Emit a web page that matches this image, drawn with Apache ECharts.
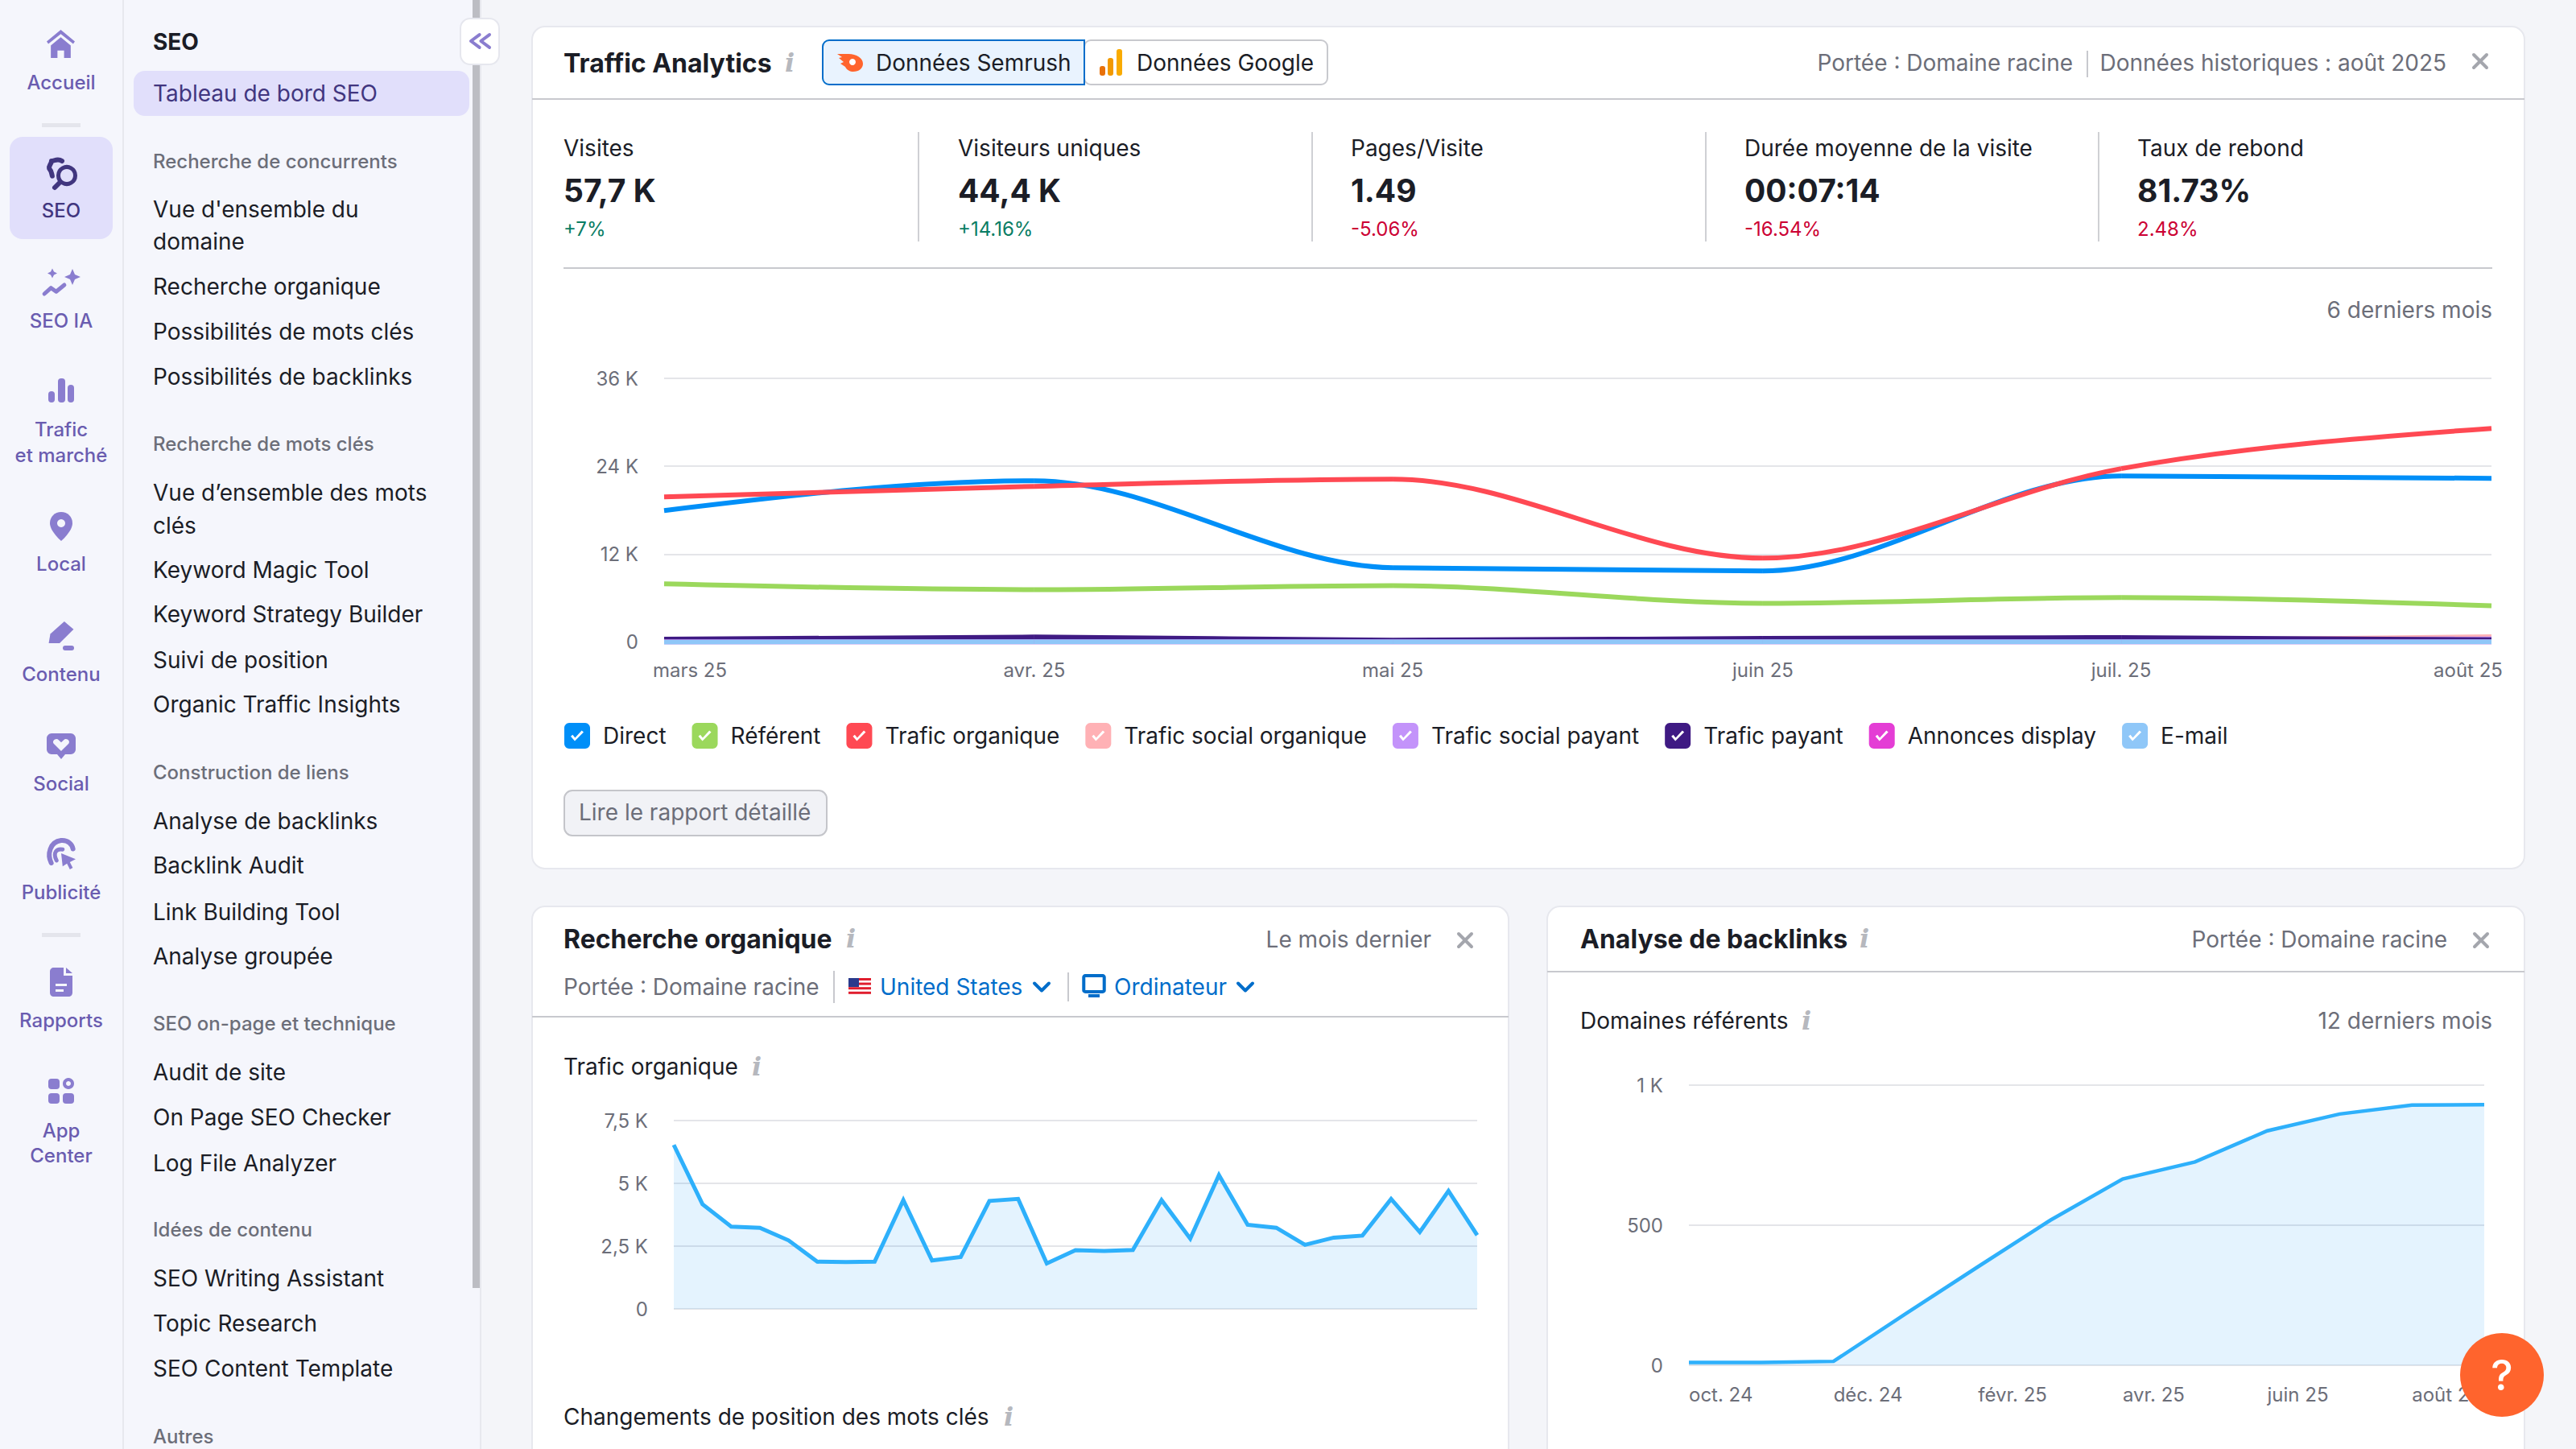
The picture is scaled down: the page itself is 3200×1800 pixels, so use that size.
<!DOCTYPE html>
<html lang="fr">
<head>
<meta charset="utf-8">
<title>Tableau de bord SEO</title>
<script src="https://cdn.jsdelivr.net/npm/echarts@6/dist/echarts.min.js"></script>
<style>
html,body{margin:0;padding:0;background:#f4f5f9}
#chart{width:3200px;height:1800px}
</style>
</head>
<body>
<div id="chart"></div>
<script>
// ---------- chart data ----------
const trafficDates = ['2025-03-01', '2025-04-01', '2025-05-01', '2025-06-01', '2025-07-01', '2025-08-01'];
const trafficMonths = ['mars 25', 'avr. 25', 'mai 25', 'juin 25', 'juil. 25', 'août 25'];
const trafficTicks = ['0', '12 K', '24 K', '36 K'];
const directValues = [17950, 22020, 10130, 9690, 22680, 22350];
const referentValues = [7930, 7150, 7700, 5280, 6060, 4950];
const organicValues = [19820, 21250, 22240, 11450, 23670, 29170];
const socialOrganicValues = [120, 150, 100, 130, 180, 720];
const socialPaidValues = [120, 160, 90, 140, 200, 420];
const paidValues = [385, 680, 240, 495, 605, 300];
const displayValues = [30, 30, 20, 30, 30, 30];
const emailValues = [10, 30, 20, 20, 20, 20];

const organicDays = ['1','2','3','4','5','6','7','8','9','10','11','12','13','14','15','16','17','18','19','20','21','22','23','24','25','26','27','28','29'];
const organicTicks = ['0', '2,5 K', '5 K', '7,5 K'];
const organicTraffic = [6530,4170,3280,3230,2730,1880,1865,1880,4330,1930,2070,4300,4380,1810,2340,2310,2350,4330,2800,5330,3350,3230,2550,2840,2920,4380,3060,4700,2940];

const backlinkMonths = ['oct. 24','nov. 24','déc. 24','janv. 25','févr. 25','mars 25','avr. 25','mai 25','juin 25','juil. 25','août 25','sept. 25'];
const backlinkTicks = ['0', '500', '1 K'];
const referringDomains = [10,10,14,184,352,518,665,726,837,897,929,930];

const legendNames = ['Direct','Référent','Trafic organique','Trafic social organique','Trafic social payant','Trafic payant','Annonces display','E-mail'];
const legendColors = ['#008ff8','#9bd85c','#ff4953','#ffb1b5','#c393fa','#3f1a83','#e43dd5','#8fc7f8'];

// ---------- interface text ----------
const kpiLabels = ['Visites','Visiteurs uniques','Pages/Visite','Durée moyenne de la visite','Taux de rebond'];
const kpiValues = ['57,7 K','44,4 K','1.49','00:07:14','81.73%'];
const kpiDeltas = ['+7%','+14.16%','-5.06%','-16.54%','2.48%'];
const railLabels = [['Accueil',102],['SEO',261],['SEO IA',398],['Trafic',533],['et marché',565],['Local',700],['Contenu',837],['Social',973],['Publicité',1108],['Rapports',1267],['App',1404],['Center',1435]];
const menuHeads = [['Recherche de concurrents',200],['Recherche de mots clés',551],['Construction de liens',959],['SEO on-page et technique',1271],['Idées de contenu',1527],['Autres',1784]];
const menuItems = [["Vue d'ensemble du",260],['domaine',300],['Recherche organique',356],['Possibilités de mots clés',412],['Possibilités de backlinks',468],['Vue d’ensemble des mots',612],['clés',653],['Keyword Magic Tool',708],['Keyword Strategy Builder',763],['Suivi de position',820],['Organic Traffic Insights',875],['Analyse de backlinks',1020],['Backlink Audit',1075],['Link Building Tool',1133],['Analyse groupée',1188],['Audit de site',1332],['On Page SEO Checker',1388],['Log File Analyzer',1445],['SEO Writing Assistant',1588],['Topic Research',1644],['SEO Content Template',1700]];

// ---------- palette ----------
const FONT = 'Inter', INK = '#1b1d26', MUTE = '#6c6e79', RULE = '#c8c9ce', GRID = '#e4e5e9';
const ICON = '#8a7dcf', LINK = '#006dca', PANEL = '#f5f6fc', ACTIVE = '#e1dffb', RAILTXT = '#6a5cb0', DEEP = '#41367f';
const BODY = 28, SMALL = 24, TITLE = 32, BIG = 39;

// ---------- graphic helpers ----------
const g = [];
function txt(text, x, y, o) {
  o = o || {};
  g.push({ type: 'text', z: o.z || 1, silent: true, style: {
    text, x, y, fill: o.fill || INK, fontFamily: o.family || FONT, fontSize: o.size || BODY,
    fontWeight: o.weight || 400, fontStyle: o.style || 'normal', align: o.align || 'left', verticalAlign: 'middle' } });
}
function box(x, y, w, h, fill, o) {
  o = o || {};
  g.push({ type: 'rect', z: o.z === undefined ? -5 : o.z, silent: true, shape: { x, y, width: w, height: h, r: o.r || 0 },
    style: { fill, stroke: o.stroke || null, lineWidth: o.lw || 0 } });
}
let shapeCount = 0;
function path(d, x, y, w, h, o) {
  const name = 'uiIcon' + (shapeCount++);
  const Cls = echarts.graphic.extendPath(d, {});
  echarts.graphic.registerShape(name, Cls);
  const r = new Cls().getBoundingRect();
  const k = Math.min(w / (r.width || 1), h / (r.height || 1));
  g.push({ type: name, z: o.z || 1, silent: true,
    x: x + (w - r.width * k) / 2 - r.x * k, y: y + (h - r.height * k) / 2 - r.y * k, scaleX: k, scaleY: k,
    style: { fill: o.fill || null, stroke: o.stroke || null, lineWidth: (o.lw || 0) / k, lineCap: 'round', lineJoin: 'round' } });
}
function circ(cx, cy, r, o) {
  g.push({ type: 'circle', z: o.z || 1, silent: true, shape: { cx, cy, r },
    style: { fill: o.fill || null, stroke: o.stroke || null, lineWidth: o.lw || 0 } });
}
function infoIcon(x, y) { txt('i', x, y, { family: 'DejaVu Serif', style: 'italic', weight: 700, size: 32, fill: '#b6b8be', align: 'center' }); }
function closeIcon(x, y) { path('M0 0L18 18M18 0L0 18', x - 8, y - 8, 16, 16, { stroke: '#a4a6ad', lw: 4 }); }
function chevron(x, y) { path('M0 0L8 8L16 0', x - 9, y - 5, 18, 10, { stroke: LINK, lw: 4 }); }

// ---------- shell ----------
box(0, 0, 596, 1800, PANEL, { z: -9 });
box(152, 0, 2, 1800, '#e7e8ee', { z: -8 });
box(596, 0, 2, 1800, '#e7e8ee', { z: -8 });
box(587, 0, 9, 1600, '#bcbdc3', { z: -7 });
box(52, 153, 48, 5, '#e4e5ec', { z: -7 });
box(52, 1159, 48, 5, '#e4e5ec', { z: -7 });
box(12, 170, 128, 127, ACTIVE, { r: 16, z: -7 });
box(166, 88, 417, 56, ACTIVE, { r: 14, z: -7 });
box(572, 23, 48, 57, '#ffffff', { r: 12, stroke: '#e6e7ee', lw: 2, z: -6 });
path('M12 0L0 9L12 18M26 0L14 9L26 18', 585, 43, 23, 16, { stroke: ICON, lw: 4 });

railLabels.forEach(([t, y]) => txt(t, 76, y, { size: SMALL, weight: 500, align: 'center', fill: (t === 'SEO') ? DEEP : RAILTXT }));
txt('SEO', 190, 52, { weight: 700 });
txt('Tableau de bord SEO', 190, 116, { fill: DEEP });
menuHeads.forEach(([t, y]) => txt(t, 190, y, { size: SMALL, weight: 500, fill: MUTE }));
menuItems.forEach(([t, y]) => txt(t, 190, y));

// rail icons
path('M0 14L17 0L34 14L32 17L17 5L2 17ZM5 19L17 9L29 19V34H21V25H13V34H5Z', 58, 37, 35, 35, { fill: ICON });
circ(83, 218, 10.5, { stroke: DEEP, lw: 5 });
path('M6 0L0 6', 68, 227, 6, 6, { stroke: DEEP, lw: 6 });
path('M18 4C12 0 8 4 4 4C4 8 0 10 1 14C4 17 4 20 5 24', 61, 197, 16, 23, { stroke: DEEP, lw: 6 });
path('M10 0L13 7L20 10L13 13L10 20L7 13L0 10L7 7Z', 80, 332, 20, 24, { fill: ICON });
path('M6 0L8 4L12 6L8 8L6 12L4 8L0 6L4 4Z', 59, 333, 12, 13, { fill: ICON });
path('M0 12L9 4L16 9L27 0', 55, 354, 25, 11, { stroke: ICON, lw: 5 });
box(60, 486, 8, 14, ICON, { r: 4, z: 1 });
box(72, 470, 9, 30, ICON, { r: 4, z: 1 });
box(84, 478, 8, 22, ICON, { r: 4, z: 1 });
path('M14 0C6 0 0 6 0 14C0 24 14 36 14 36C14 36 28 24 28 14C28 6 22 0 14 0Z', 62, 636, 28, 36, { fill: ICON });
circ(76, 650, 5, { fill: PANEL, z: 2 });
path('M0 28L2 16L20 0L32 10L14 28Z', 60, 772, 32, 27, { fill: ICON });
box(78, 802, 14, 6, ICON, { r: 3, z: 1 });
path('M6 0H30C33 0 36 3 36 6V20C36 23 33 26 30 26H23L18 32L13 26H6C3 26 0 23 0 20V6C0 3 3 0 6 0Z', 58, 911, 36, 32, { fill: ICON });
path('M9 14L0 5C-2 2 3 -2 6 1L9 4L12 1C15 -2 20 2 18 5Z', 66, 918, 20, 15, { fill: PANEL, z: 2 });
path('M4 34C-2 22 2 4 18 2C28 1 34 8 35 14', 58, 1044, 36, 28, { stroke: ICON, lw: 6 });
path('M16 22C12 14 16 10 22 11', 68, 1055, 10, 14, { stroke: ICON, lw: 5 });
path('M0 0L20 8L12 12L16 20L12 22L8 14L2 18Z', 76, 1060, 18, 20, { fill: ICON });
path('M5 0H17V10H28V31C28 34 26 36 23 36H5C2 36 0 34 0 31V5C0 2 2 0 5 0ZM20 0L28 7H20Z', 62, 1202, 28, 36, { fill: ICON });
box(69, 1222, 14, 3, PANEL, { z: 2 });
box(69, 1229, 10, 3, PANEL, { z: 2 });
box(60, 1340, 14, 13, ICON, { r: 4, z: 1 });
circ(85, 1346, 5, { stroke: ICON, lw: 4 });
box(60, 1358, 14, 13, ICON, { r: 4, z: 1 });
box(78, 1358, 14, 13, ICON, { r: 4, z: 1 });

// ---------- card 1 ----------
box(661, 33, 2475, 1046, '#ffffff', { r: 16, stroke: '#e7e8ee', lw: 2 });
box(661, 122, 2475, 2, RULE, { z: -4 });
txt('Traffic Analytics', 700, 78, { weight: 700, size: TITLE });
infoIcon(981, 78);
box(1347, 50, 302, 55, '#ffffff', { r: 8, stroke: RULE, lw: 2, z: -4 });
box(1022, 50, 325, 55, '#e9f3fe', { r: [8, 0, 0, 8], stroke: LINK, lw: 2, z: -3 });
txt('Données Semrush', 1088, 78);
txt('Données Google', 1412, 78);
path('M0 0H14C24 0 32 5 32 12C32 18 27 22 20 22C16 22 12 20 10 16L4 12L8 10L2 5L6 4Z', 1040, 67, 32, 22, { fill: '#ff642d' });
circ(1059, 77, 4, { fill: '#ffffff', z: 2 });
box(1366, 82, 7, 12, '#e8710a', { r: 3, z: 1 });
box(1376, 72, 7, 22, '#f29900', { r: 3, z: 1 });
box(1387, 61, 7, 33, '#f9ab00', { r: 3, z: 1 });
txt('Portée : Domaine racine', 2575, 78, { fill: MUTE, align: 'right' });
box(2592, 63, 2, 33, RULE, { z: -4 });
txt('Données historiques : août 2025', 3039, 78, { fill: MUTE, align: 'right' });
closeIcon(3081, 76);

const kpiX = [700, 1190, 1678, 2167, 2655];
kpiLabels.forEach((t, i) => {
  txt(t, kpiX[i], 184);
  txt(kpiValues[i], kpiX[i], 236, { weight: 700, size: BIG });
  const up = kpiDeltas[i][0] === '+';
  txt(kpiDeltas[i], kpiX[i], 284, { size: SMALL, fill: up ? '#0a7d64' : '#cc0033' });
});
[1140, 1629, 2118, 2606].forEach(x => box(x, 164, 2, 136, '#cfd0d4', { z: -4 }));
box(700, 332, 2396, 2, RULE, { z: -4 });
txt('6 derniers mois', 3096, 385, { fill: MUTE, align: 'right' });
box(701, 982, 326, 56, '#f1f2f6', { r: 10, stroke: '#c4c5ca', lw: 2, z: -4 });
txt('Lire le rapport détaillé', 719, 1009, { fill: MUTE });

// ---------- card 2 ----------
box(661, 1126, 1213, 800, '#ffffff', { r: 16, stroke: '#e7e8ee', lw: 2 });
box(661, 1262, 1213, 2, RULE, { z: -4 });
txt('Recherche organique', 700, 1166, { weight: 700, size: TITLE });
infoIcon(1057, 1166);
txt('Le mois dernier', 1778, 1167, { fill: MUTE, align: 'right' });
closeIcon(1820, 1168);
txt('Portée : Domaine racine', 700, 1226, { fill: MUTE });
box(1035, 1206, 2, 40, RULE, { z: -4 });
box(1054, 1215, 28, 20, '#ffffff', { z: 1 });
[0, 1, 2, 3].forEach(i => box(1054, 1215 + i * 5.6, 28, 3, '#e01e2e', { z: 1 }));
box(1054, 1215, 13, 11, '#2a3a8c', { z: 2 });
txt('United States', 1093, 1226, { fill: LINK });
chevron(1294, 1226);
box(1326, 1208, 2, 36, RULE, { z: -4 });
path('M2 0H26C27 0 28 1 28 2V20C28 21 27 22 26 22H2C1 22 0 21 0 20V2C0 1 1 0 2 0Z', 1346, 1212, 26, 20, { stroke: LINK, lw: 4 });
box(1352, 1235, 14, 4, LINK, { z: 1 });
txt('Ordinateur', 1384, 1226, { fill: LINK });
chevron(1547, 1226);
txt('Trafic organique', 700, 1325);
infoIcon(940, 1325);
txt('Changements de position des mots clés', 700, 1760);
infoIcon(1253, 1760);

// ---------- card 3 ----------
box(1922, 1126, 1214, 800, '#ffffff', { r: 16, stroke: '#e7e8ee', lw: 2 });
box(1922, 1206, 1214, 2, RULE, { z: -4 });
txt('Analyse de backlinks', 1963, 1166, { weight: 700, size: TITLE });
infoIcon(2316, 1166);
txt('Portée : Domaine racine', 3040, 1167, { fill: MUTE, align: 'right' });
closeIcon(3082, 1168);
txt('Domaines référents', 1963, 1268);
infoIcon(2244, 1268);
txt('12 derniers mois', 3096, 1268, { fill: MUTE, align: 'right' });

// ---------- help button ----------
circ(3108, 1708, 52, { fill: '#ff642d', z: 100 });
txt('?', 3108, 1708, { fill: '#ffffff', size: 52, weight: 500, align: 'center', z: 101 });

// ---------- legend icon: rounded box with a check mark cut out ----------
const CHECK_BOX = 'path://M6 0H26C29 0 32 3 32 6V26C32 29 29 32 26 32H6C3 32 0 29 0 26V6C0 3 3 0 6 0ZM13 22.5L24 11.5L21.6 9.5L13.4 18.5L10.4 14.8L8 16.8Z';

// ---------- monotone-cubic traffic curves, placed through the axes' own scales ----------
function monotoneTangents(pts) {
  const n = pts.length, s = [], t = [];
  for (let i = 0; i < n - 1; i++) s.push((pts[i + 1][1] - pts[i][1]) / (pts[i + 1][0] - pts[i][0]));
  for (let i = 1; i < n - 1; i++) {
    const h0 = pts[i][0] - pts[i - 1][0], h1 = pts[i + 1][0] - pts[i][0];
    const p = (s[i - 1] * h1 + s[i] * h0) / (h0 + h1);
    t[i] = (Math.sign(s[i - 1]) + Math.sign(s[i])) * Math.min(Math.abs(s[i - 1]), Math.abs(s[i]), 0.5 * Math.abs(p));
  }
  t[0] = (3 * s[0] - t[1]) / 2;
  t[n - 1] = (3 * s[n - 2] - t[n - 2]) / 2;
  return t;
}
function trafficLine(name, values, i) {
  return {
    type: 'custom', name, xAxisIndex: 0, yAxisIndex: 0, clip: false, silent: true,
    data: values.map((v, k) => [trafficDates[k], v]),
    encode: { x: 0, y: 1 },
    itemStyle: { color: legendColors[i] },
    renderItem(params, api) {
      const k = params.dataIndex;
      if (k >= values.length - 1) return null;
      const pts = values.map((v, j) => api.coord([+new Date(trafficDates[j] + 'T00:00:00'), v]));
      const t = monotoneTangents(pts);
      const h = (pts[k + 1][0] - pts[k][0]) / 3;
      return { type: 'bezierCurve', shape: {
          x1: pts[k][0], y1: pts[k][1], x2: pts[k + 1][0], y2: pts[k + 1][1],
          cpx1: pts[k][0] + h, cpy1: pts[k][1] + h * t[k], cpx2: pts[k + 1][0] - h, cpy2: pts[k + 1][1] - h * t[k + 1] },
        style: { fill: 'none', stroke: legendColors[i], lineWidth: 6, lineCap: 'butt' } };
    }
  };
}
function areaLine(name, data, xi, width) {
  return { type: 'line', name, data, xAxisIndex: xi, yAxisIndex: xi, showSymbol: false, symbol: 'none', clip: false,
    lineStyle: { color: '#2eb0fb', width, join: 'miter' }, itemStyle: { color: '#2eb0fb' }, areaStyle: { color: 'rgba(0,143,248,0.15)' } };
}
const axisText = { color: MUTE, fontFamily: FONT, fontSize: SMALL };
const gridLine = { show: true, lineStyle: { color: GRID, width: 2 } };
function yAxis(gridIndex, max, interval, labels) {
  return { type: 'value', gridIndex, min: 0, max, interval, axisLine: { show: false }, axisTick: { show: false }, splitLine: gridLine,
    axisLabel: { ...axisText, margin: 32, formatter: v => labels[Math.round(v / interval)] } };
}

const option = {
  animation: false,
  backgroundColor: '#f4f5f9',
  textStyle: { fontFamily: FONT },
  grid: [
    { left: 825, top: 470, width: 2270, height: 327.5 },
    { left: 837, top: 1392, width: 998, height: 234 },
    { left: 2098, top: 1348, width: 988, height: 348 }
  ],
  legend: {
    left: 701, top: 898, padding: 0, itemWidth: 32, itemHeight: 32, itemGap: 32, selectedMode: false, icon: CHECK_BOX,
    data: legendNames.map((name, i) => ({ name, itemStyle: { color: legendColors[i], borderWidth: 0 } })),
    textStyle: { color: INK, fontFamily: FONT, fontSize: BODY, padding: [0, 0, 0, 11] }
  },
  xAxis: [
    { type: 'time', gridIndex: 0, min: +new Date(trafficDates[0] + 'T00:00:00'), max: +new Date(trafficDates[5] + 'T00:00:00'), splitNumber: 5,
      axisLine: { show: false }, axisTick: { show: false }, splitLine: { show: false }, minorTick: { show: false },
      axisLabel: { ...axisText, margin: 23, showMinLabel: true, showMaxLabel: true, hideOverlap: false,
        formatter: v => {
          const i = new Date(v).getMonth() - 2, t = trafficMonths[i];
          return i === 0 ? '{first|' + t + '}' : i === trafficMonths.length - 1 ? '{last|' + t + '}' : '{mid|' + t + '}';
        },
        rich: { first: { ...axisText, padding: [0, 0, 0, 64] }, mid: { ...axisText }, last: { ...axisText, padding: [0, 58, 0, 0] } } } },
    { type: 'category', gridIndex: 1, data: organicDays, boundaryGap: false, axisLine: { show: false }, axisTick: { show: false }, axisLabel: { show: false }, splitLine: { show: false } },
    { type: 'category', gridIndex: 2, data: backlinkMonths, boundaryGap: false, axisLine: { show: false }, axisTick: { show: false }, splitLine: { show: false },
      axisLabel: { ...axisText, margin: 24, interval: 1, align: 'left' } }
  ],
  yAxis: [
    yAxis(0, 36000, 12000, trafficTicks),
    yAxis(1, 7500, 2500, organicTicks),
    yAxis(2, 1000, 500, backlinkTicks)
  ],
  series: [
    trafficLine(legendNames[0], directValues, 0),
    trafficLine(legendNames[1], referentValues, 1),
    trafficLine(legendNames[2], organicValues, 2),
    trafficLine(legendNames[3], socialOrganicValues, 3),
    trafficLine(legendNames[4], socialPaidValues, 4),
    trafficLine(legendNames[5], paidValues, 5),
    trafficLine(legendNames[6], displayValues, 6),
    trafficLine(legendNames[7], emailValues, 7),
    areaLine('Trafic organique (jour)', organicTraffic, 1, 5),
    areaLine('Domaines référents', referringDomains, 2, 4.5)
  ],
  graphic: { elements: g }
};

const chart = echarts.init(document.getElementById('chart'), null, { renderer: 'svg', width: 3200, height: 1800 });
chart.setOption(option);
</script>
</body>
</html>
